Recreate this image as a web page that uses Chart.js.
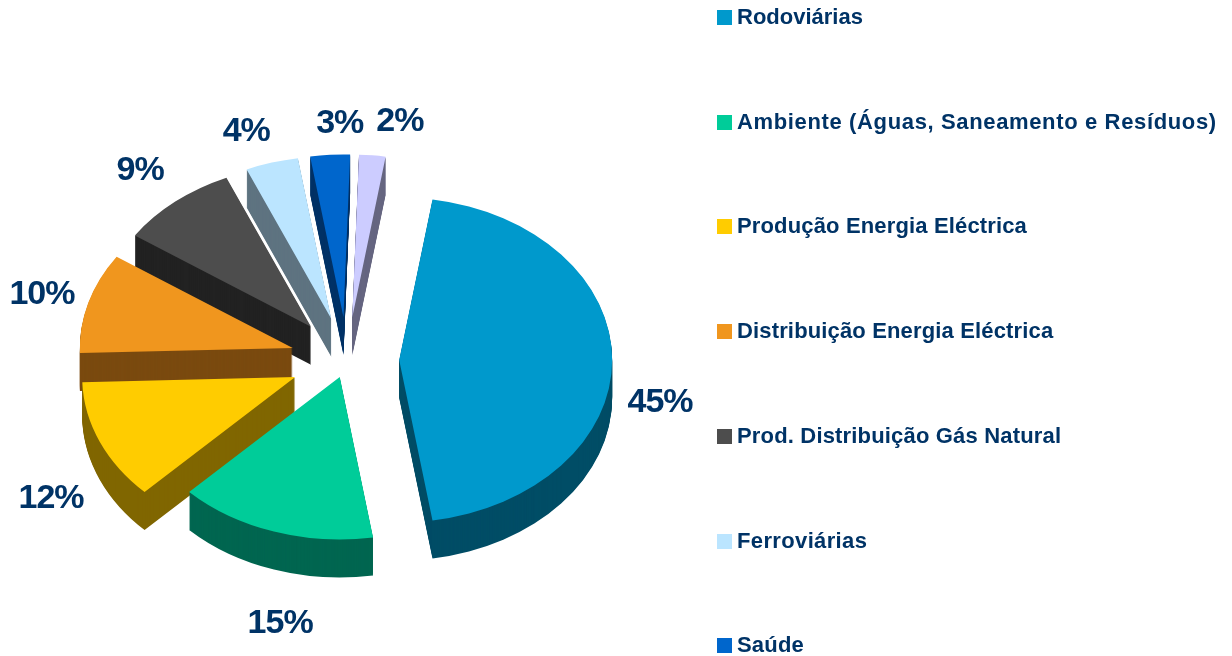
<!DOCTYPE html>
<html>
<head>
<meta charset="utf-8">
<title>Pie</title>
<script src="https://cdn.jsdelivr.net/npm/chart.js@4"></script>
<style>
  html, body { margin: 0; padding: 0; background: #fff; overflow: hidden; }
  #wrap { position: relative; width: 1232px; height: 656px; overflow: hidden; }
  #legend { position: absolute; left: 717px; top: 0; font: bold 22px "Liberation Sans", Arial, sans-serif; color: #003366; }
  #legend div { position: absolute; left: 0; white-space: nowrap; height: 24px; line-height: 24px; }
  #legend i { display: inline-block; width: 15px; height: 15px; margin-right: 5px; vertical-align: -1px; }
</style>
</head>
<body>
<div id="wrap">
  <canvas id="pie" width="1232" height="656"></canvas>
  <div id="legend"></div>
</div>
<script>
// the 8th legend entry falls below the picture in the original, so its name is unknown
const categories = ['Rodoviárias', 'Ambiente (Águas, Saneamento e Resíduos)', 'Produção Energia Eléctrica',
    'Distribuição Energia Eléctrica', 'Prod. Distribuição Gás Natural', 'Ferroviárias', 'Saúde', ''];
const values = [45, 15, 12, 10, 9, 4, 3, 2];
const topColors = ['#0099CC', '#00CC99', '#FFCC00', '#F0961E', '#4D4D4D', '#BBE5FF', '#0066CC', '#CCCCFF'];
const wallColors = ['#004D66', '#006650', '#806600', '#7A4A0F', '#222222', '#5E7380', '#003366', '#666680'];

// how far each slice is pulled out, as a part of the radius
const explode = [0.245, 0.11, 0.265, 0.265, 0.265, 0.265, 0.265, 0.265];
const labelNudge = [[10, 43], [18, 64], [-14, 46], [-10, 0], [-11, -9], [-15, -3], [12, -2], [24, -5]];
const legendSpacing = [0, 0.64, 0.15, 0.15, 0.17, 0.36, 0.2];

const pieX = 347, pieY = 360, radius = 162.5, squashX = 213 / 162.5, depth = 38;
const drawOrder = [7, 6, 5, 4, 3, 2, 1, 0];

const pie3d = {
    id: 'pie3d',
    beforeDatasetsDraw(chart) {
        const ctx = chart.ctx;
        const arcs = chart.getDatasetMeta(0).data;
        drawOrder.forEach(i => {
            const arc = arcs[i];
            const mid = (arc.startAngle + arc.endAngle) / 2;
            const dx = Math.cos(mid) * explode[i] * radius;
            const dy = Math.sin(mid) * explode[i] * radius;
            const topOptions = arc.options;
            const place = (down) => {
                ctx.save();
                ctx.translate(pieX, pieY + down);
                ctx.scale(squashX, 1);
                ctx.translate(dx - arc.x, dy - arc.y);
                arc.draw(ctx);
                ctx.restore();
            };
            // side wall: the same arc stacked downwards in the dark colour
            arc.options = Object.assign(Object.create(topOptions), { backgroundColor: wallColors[i], borderWidth: 0 });
            for (let d = depth; d > 0; d--) place(d);
            arc.options = topOptions;
            place(0);
        });
        return false;
    },
    afterDraw(chart) {
        const ctx = chart.ctx;
        const arcs = chart.getDatasetMeta(0).data;
        ctx.save();
        ctx.font = 'bold 34px "Liberation Sans", Arial, sans-serif';
        ctx.letterSpacing = '-1px';
        ctx.fillStyle = '#003366';
        ctx.textAlign = 'center';
        ctx.textBaseline = 'middle';
        arcs.forEach((arc, i) => {
            const mid = (arc.startAngle + arc.endAngle) / 2;
            const x = pieX + squashX * 160 * Math.cos(mid) * (explode[i] + 1.2) + labelNudge[i][0];
            const y = pieY + 160 * Math.sin(mid) * (explode[i] + 1.2) + labelNudge[i][1];
            ctx.fillText(values[i] + '%', x, y);
        });
        ctx.restore();
    }
};

new Chart(document.getElementById('pie'), {
    type: 'pie',
    data: {
        labels: categories,
        datasets: [{ data: values, backgroundColor: topColors, borderWidth: 0 }]
    },
    options: {
        responsive: false,
        animation: false,
        rotation: 9,
        radius: radius,
        plugins: { legend: { display: false }, tooltip: { enabled: false } }
    },
    plugins: [pie3d]
});

const legend = document.getElementById('legend');
categories.forEach((name, i) => {
    if (!name) return;
    const row = document.createElement('div');
    row.style.top = (5 + i * 104.7) + 'px';
    row.style.letterSpacing = legendSpacing[i] + 'px';
    row.innerHTML = '<i style="background:' + topColors[i] + '"></i>' + name;
    legend.appendChild(row);
});
</script>
</body>
</html>
